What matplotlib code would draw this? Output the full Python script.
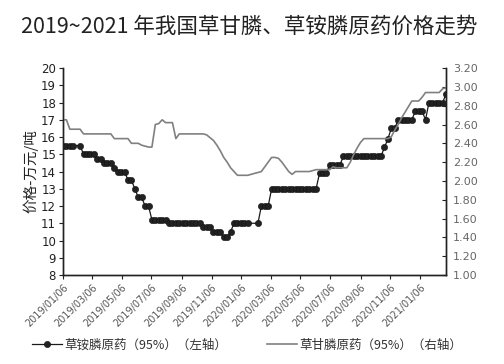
import matplotlib
matplotlib.use("Agg")
import matplotlib.pyplot as plt
import numpy as np
import pandas as pd

plt.rcParams['font.family'] = ['Noto Sans CJK SC', 'DejaVu Sans']

# weekly prices, first week 2019-01-06
start_date = '2019-01-06'
nan = np.nan

# glufosinate technical (left axis, 10k yuan / t)
glufosinate = [
    15.5, 15.5, 15.5, 15.5, nan, 15.5, 15.0, 15.0, 15.0, 15.0,
    14.7, 14.7, 14.5, 14.5, 14.5, 14.2, 14.0, 14.0, 14.0, 13.5,
    13.5, 13.0, 12.5, 12.5, 12.0, 12.0, 11.2, 11.2, 11.2, 11.2,
    11.2, 11.0, 11.0, 11.0, 11.0, 11.0, 11.0, 11.0, 11.0, 11.0,
    11.0, 10.8, 10.8, 10.8, 10.5, 10.5, 10.5, 10.2, 10.2, 10.5,
    11.0, 11.0, 11.0, 11.0, 11.0, nan, nan, 11.0, 12.0, 12.0,
    12.0, 13.0, 13.0, 13.0, 13.0, 13.0, 13.0, 13.0, 13.0, 13.0,
    13.0, 13.0, 13.0, 13.0, 13.0, 13.9, 13.9, 13.9, 14.4, 14.4,
    14.4, 14.4, 14.9, 14.9, 14.9, 14.9, 14.9, 14.9, 14.9, 14.9,
    14.9, 14.9, 14.9, 14.9, 15.4, 15.9, 16.5, 16.5, 17.0, 17.0,
    17.0, 17.0, 17.0, 17.5, 17.5, 17.5, 17.0, 18.0, 18.0, 18.0,
    18.0, 18.0, 18.5,
]

# glyphosate technical (right axis)
glyphosate = [
    2.65, 2.65, 2.55, 2.55, 2.55, 2.55, 2.50, 2.50, 2.50, 2.50,
    2.50, 2.50, 2.50, 2.50, 2.50, 2.45, 2.45, 2.45, 2.45, 2.45,
    2.40, 2.40, 2.40, 2.38, 2.37, 2.36, 2.36, 2.60, 2.61, 2.65,
    2.62, 2.62, 2.62, 2.45, 2.50, 2.50, 2.50, 2.50, 2.50, 2.50,
    2.50, 2.50, 2.49, 2.46, 2.43, 2.38, 2.32, 2.25, 2.20, 2.14,
    2.10, 2.06, 2.06, 2.06, 2.06, 2.07, 2.08, 2.09, 2.10, 2.15,
    2.20, 2.25, 2.25, 2.24, 2.20, 2.15, 2.10, 2.07, 2.10, 2.10,
    2.10, 2.10, 2.10, 2.11, 2.12, 2.12, 2.12, 2.12, 2.12, 2.15,
    2.14, 2.14, 2.14, 2.14, 2.20, 2.28, 2.35, 2.41, 2.45, 2.45,
    2.45, 2.45, 2.45, 2.45, 2.45, 2.45, 2.47, 2.54, 2.60, 2.67,
    2.73, 2.79, 2.85, 2.85, 2.85, 2.89, 2.94, 2.94, 2.94, 2.94,
    2.94, 2.98, 2.99,
]

tick_dates = ['2019-01-06', '2019-03-06', '2019-05-06', '2019-07-06',
              '2019-09-06', '2019-11-06', '2020-01-06', '2020-03-06',
              '2020-05-06', '2020-07-06', '2020-09-06', '2020-11-06',
              '2021-01-06']
tick_labels = ['2019/01/06', '2019/03/06', '2019/05/06', '2019/07/06',
               '2019/09/06', '2019/11/06', '2020/01/06', '2020/03/06',
               '2020/05/06', '2020/07/06', '2020/09/06', '2020/11/06',
               '2021/01/06']

left_ticks = list(range(8, 21))
right_ticks = [1.0, 1.2, 1.4, 1.6, 1.8, 2.0, 2.2, 2.4, 2.6, 2.8, 3.0, 3.2]

dates = pd.date_range(start_date, periods=len(glufosinate), freq='7D')
gluf = np.array(glufosinate)
mask = ~np.isnan(gluf)

fig = plt.figure(figsize=(5.04, 3.64), dpi=100)
ax = fig.add_axes([0.125, 0.2445, 0.76, 0.5685])
ax2 = ax.twinx()

l1, = ax.plot(dates[mask], gluf[mask], '-o', color='#1a1a1a', lw=0.9,
              markersize=4.5, markeredgewidth=0.4, markeredgecolor='#111111',
              markerfacecolor='#222222', label='草铵膦原药（95%）（左轴）')
l2, = ax2.plot(dates, glyphosate, '-', color='#808080', lw=1.2,
               label='草甘膦原药（95%）（右轴）')

ax.set_xlim(dates[0], dates[-1])
ax.set_ylim(8, 20)
ax2.set_ylim(1.0, 3.2)
ax.set_yticks(left_ticks)
ax2.set_yticks(right_ticks)
ax2.set_yticklabels(['%.2f' % v for v in right_ticks])

ax.set_xticks(pd.to_datetime(tick_dates))
ax.set_xticklabels(tick_labels, rotation=45, ha='right',
                   rotation_mode='anchor', fontsize=7, color='#555555',
                   family='DejaVu Sans')

for a in (ax, ax2):
    a.spines['top'].set_visible(False)
    for s in ('left', 'right', 'bottom'):
        a.spines[s].set_color('#222222')
        a.spines[s].set_linewidth(1.0)

ax.tick_params(axis='y', direction='out', length=3, labelsize=8.5,
               colors='#222222', pad=2)
ax.tick_params(axis='x', direction='out', length=3, color='#222222', pad=2)
ax2.tick_params(axis='y', direction='in', length=3, labelsize=8,
                colors='#222222', labelcolor='#666666', pad=5)
for lab in ax.get_yticklabels() + ax2.get_yticklabels():
    lab.set_family('DejaVu Sans')

ax.set_ylabel('价格-万元/吨', fontsize=10.5, color='#222222', labelpad=2)

fig.text(0.495, 0.928, '2019~2021 年我国草甘膦、草铵膦原药价格走势',
         ha='center', va='center', fontsize=15.5, color='#222222')

fig.legend(handles=[l1, l2], loc='center', bbox_to_anchor=(0.49, 0.052),
           ncol=2, frameon=False, fontsize=9, handlelength=2.4,
           columnspacing=3.2, handletextpad=0.2, labelcolor='#333333')

fig.savefig('out.png', dpi=100)
